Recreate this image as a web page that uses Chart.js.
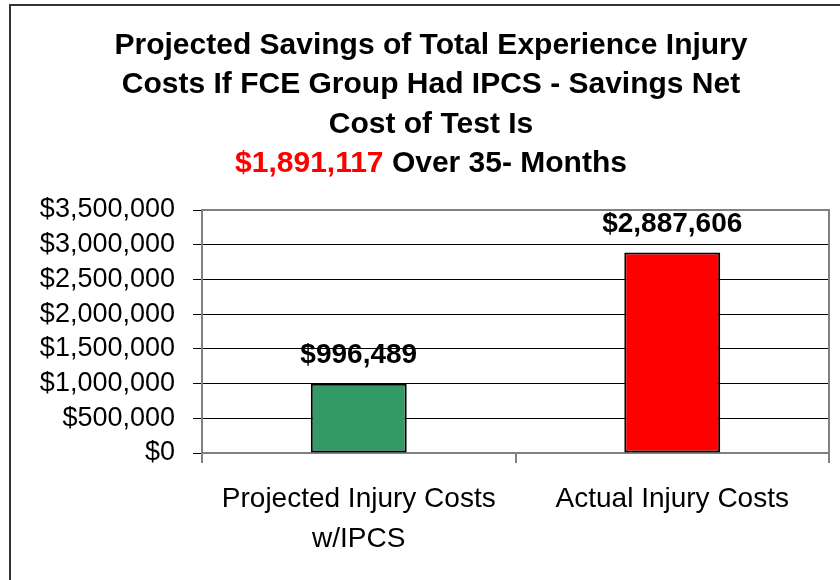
<!DOCTYPE html>
<html>
<head>
<meta charset="utf-8">
<script src="https://cdn.jsdelivr.net/npm/chart.js@4/dist/chart.umd.min.js"></script>
<style>
  html, body { margin: 0; padding: 0; background: #ffffff; }
  #wrap { width: 840px; height: 580px; position: relative; }
</style>
</head>
<body>
<div id="wrap"><canvas id="c" width="840" height="580"></canvas></div>
<script>
// ---- data ----
const categories = [["Projected Injury Costs", "w/IPCS"], "Actual Injury Costs"];
const costValues = [996489, 2887606];
const barColors = ["#339966", "#FF0000"];
const titleLines = [
  "Projected Savings of Total Experience Injury",
  "Costs If FCE Group Had IPCS - Savings Net",
  "Cost of Test Is"
];
const titleHighlight = "$1,891,117";
const titleTail = " Over 35- Months";
const yMin = 0, yMax = 3500000, yStep = 500000;

const FONT = "'Liberation Sans', Arial, sans-serif";
const fmt = v => "$" + Number(v).toLocaleString("en-US");

const decorPlugin = {
  id: "decor",
  beforeDraw(chart) {
    const ctx = chart.ctx;
    ctx.save();
    ctx.fillStyle = "#ffffff";
    ctx.fillRect(0, 0, chart.width, chart.height);
    ctx.restore();
  },
  afterDraw(chart) {
    const ctx = chart.ctx;
    const a = chart.chartArea;
    ctx.save();
    // outer frame (left & top visible)
    ctx.strokeStyle = "#333333";
    ctx.lineWidth = 2;
    ctx.beginPath();
    ctx.moveTo(10, 580);
    ctx.lineTo(10, 5);
    ctx.lineTo(840, 5);
    ctx.stroke();
    // plot frame top & right (gray)
    ctx.strokeStyle = "#808080";
    ctx.lineWidth = 2;
    ctx.beginPath();
    ctx.moveTo(a.left, a.top);
    ctx.lineTo(a.right, a.top);
    ctx.lineTo(a.right, a.bottom + 10);
    ctx.stroke();
    // title
    const cx = 431;
    ctx.font = "bold 30px " + FONT;
    ctx.textBaseline = "middle";
    ctx.textAlign = "center";
    ctx.fillStyle = "#000000";
    const ys = [46, 85, 125, 164];
    titleLines.forEach((t, i) => ctx.fillText(t, cx, ys[i]));
    const w1 = ctx.measureText(titleHighlight).width;
    const w2 = ctx.measureText(titleTail).width;
    const x0 = cx - (w1 + w2) / 2;
    ctx.textAlign = "left";
    ctx.fillStyle = "#FF0000";
    ctx.fillText(titleHighlight, x0, ys[3]);
    ctx.fillStyle = "#000000";
    ctx.fillText(titleTail, x0 + w1, ys[3]);
    // value labels
    ctx.font = "bold 28px " + FONT;
    ctx.textAlign = "center";
    ctx.textBaseline = "alphabetic";
    const meta = chart.getDatasetMeta(0);
    meta.data.forEach((bar, i) => {
      ctx.fillText(fmt(costValues[i]), bar.x, bar.y - 21);
    });
    ctx.restore();
  }
};

new Chart(document.getElementById("c"), {
  type: "bar",
  data: {
    labels: categories,
    datasets: [{
      data: costValues,
      backgroundColor: barColors,
      borderColor: "#000000",
      borderWidth: 2,
      borderSkipped: false,
      barPercentage: 0.306,
      categoryPercentage: 1.0
    }]
  },
  options: {
    responsive: false,
    animation: false,
    devicePixelRatio: 1,
    layout: { padding: { left: 10, top: 210, right: 11, bottom: 0 } },
    plugins: {
      legend: { display: false },
      title: { display: false },
      tooltip: { enabled: false }
    },
    scales: {
      x: {
        offset: true,
        grid: {
          offset: true,
          display: true,
          drawOnChartArea: false,
          drawTicks: true,
          tickLength: 10,
          color: "#808080",
          lineWidth: 2
        },
        border: { display: true, color: "#808080", width: 2 },
        ticks: {
          color: "#000000",
          font: { family: FONT, size: 28, lineHeight: 1.43 },
          padding: 16,
          maxRotation: 0,
          autoSkip: false
        },
        afterFit(scale) { scale.height = 127; }
      },
      y: {
        min: yMin,
        max: yMax,
        grid: {
          color: "#000000",
          lineWidth: 1,
          drawTicks: true,
          tickLength: 9
        },
        border: { display: true, color: "#808080", width: 2 },
        ticks: {
          stepSize: yStep,
          autoSkip: false,
          color: "#000000",
          font: { family: FONT, size: 27, lineHeight: 1.1 },
          padding: 18,
          callback: v => fmt(v)
        },
        afterFit(scale) { scale.width = 192; }
      }
    }
  },
  plugins: [decorPlugin]
});
</script>
</body>
</html>
